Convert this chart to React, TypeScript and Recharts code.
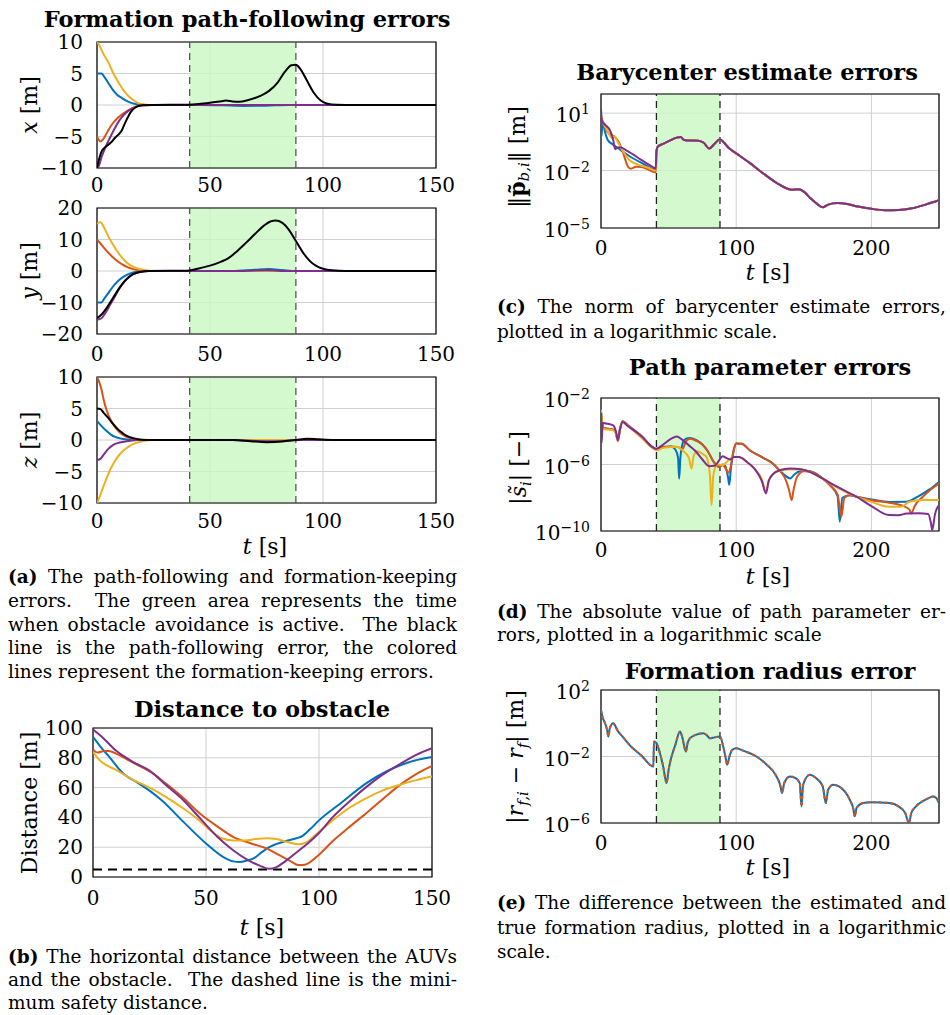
import React from "react";
import { LineChart, Line, XAxis, YAxis, CartesianGrid, ReferenceArea, ReferenceLine } from "recharts";

const SERIF = "'DejaVu Serif', 'Liberation Serif', serif";

const C_BLUE = "#0072BD";
const C_ORANGE = "#D95319";
const C_YELLOW = "#EDB120";
const C_PURPLE = "#7E2F8E";
const C_BLACK = "#000000";

// obstacle avoidance active between these times [s]
const avoidStart = 41;
const avoidEnd = 88;

// ---- (a) path-following / formation-keeping errors, [t, value] ----
const xErrBlue = [[0, 5], [2, 5], [3, 4.6], [5, 3.5], [7, 2.4], [9, 1.6], [11, 1.1], [14, 0.5], [17, 0.15], [20, 0], [45, 0], [55, -0.05], [65, -0.15], [75, -0.1], [85, 0], [150, 0]];
const xErrOrange = [[0, -5], [1.5, -5.8], [3, -5.3], [5, -4], [7, -2.9], [9, -2.1], [11, -1.5], [14, -0.8], [17, -0.3], [20, -0.05], [24, 0], [150, 0]];
const xErrYellow = [[0, 10], [1, 9.5], [3, 8], [5, 6.8], [7, 5.2], [10, 3.3], [12, 2.2], [14, 1.4], [16, 0.8], [18, 0.35], [21, 0.1], [25, 0], [150, 0]];
const xErrPurple = [[0, -10], [1, -9.5], [2, -8.3], [4, -6.5], [6, -5], [8, -3.6], [10, -2.4], [12, -1.5], [14, -0.9], [17, -0.3], [20, -0.05], [24, 0], [150, 0]];
const xErrPath = [[0, -10], [1, -8.5], [2, -7.4], [4, -6.6], [6, -6], [8, -5.2], [10, -4.5], [11, -4], [12, -3.2], [13, -2.4], [14, -1.7], [15, -1.1], [17, -0.4], [20, -0.05], [25, 0], [40, 0.05], [45, 0.15], [50, 0.35], [55, 0.6], [57, 0.7], [60, 0.55], [63, 0.5], [67, 0.8], [72, 1.4], [76, 2.2], [80, 3.6], [83, 5.2], [86, 6.3], [88, 6.4], [90, 5.7], [93, 3.8], [96, 1.9], [99, 0.7], [102, 0.2], [106, 0.02], [110, 0], [150, 0]];

const yErrBlue = [[0, -10], [2, -10], [3, -9], [5, -7], [7, -5], [9, -3.4], [11, -2.2], [13, -1.3], [16, -0.5], [19, -0.15], [23, 0], [60, 0], [70, 0.4], [76, 0.6], [82, 0.3], [88, 0], [150, 0]];
const yErrOrange = [[0, 10], [1, 9.2], [3, 7.4], [5, 5.8], [7, 4.4], [9, 3.2], [11, 2.2], [13, 1.4], [16, 0.6], [19, 0.2], [23, 0], [150, 0]];
const yErrYellow = [[0, 15], [1.5, 15.5], [3, 14], [5, 11], [7, 8.5], [9, 6.2], [11, 4.3], [13, 2.8], [15, 1.7], [18, 0.8], [21, 0.3], [25, 0], [150, 0]];
const yErrPurple = [[0, -15.5], [2, -15], [4, -13], [6, -10.5], [8, -8], [10, -5.5], [12, -3.5], [14, -2], [16, -1], [19, -0.3], [23, 0], [60, 0], [75, 0.2], [85, 0], [150, 0]];
const yErrPath = [[0, -15], [2, -13.8], [4, -12], [6, -9.8], [8, -7.5], [10, -5.3], [12, -3.4], [14, -2], [16, -1], [19, -0.3], [23, 0], [40, 0.1], [45, 0.8], [50, 1.7], [55, 3], [58, 4], [62, 6.3], [66, 9], [70, 11.8], [74, 14.5], [77, 15.8], [79, 16], [82, 15.3], [85, 13], [88, 9.5], [91, 6], [94, 3.3], [97, 1.6], [100, 0.7], [104, 0.2], [110, 0], [150, 0]];

const zErrBlue = [[0, 3], [2, 2.2], [4, 1.5], [6, 0.9], [8, 0.5], [11, 0.2], [14, 0.05], [18, 0], [150, 0]];
const zErrOrange = [[0, 10], [1, 9.2], [2, 8], [3, 6.3], [4, 5], [5, 4], [7, 2.6], [9, 1.6], [11, 0.9], [13, 0.5], [16, 0.2], [20, 0], [150, 0]];
const zErrYellow = [[0, -10], [1, -9.2], [2, -8.2], [4, -6.3], [6, -4.6], [8, -3.3], [10, -2.3], [12, -1.6], [14, -1.05], [17, -0.5], [20, -0.2], [25, 0], [150, 0]];
const zErrPurple = [[0, -3.2], [1.5, -3], [3, -2.3], [5, -1.4], [7, -0.8], [10, -0.4], [14, -0.15], [18, 0], [60, 0], [70, -0.15], [80, -0.2], [88, 0], [150, 0]];
const zErrPath = [[0, 5], [1.5, 4.9], [3, 4.3], [5, 3.5], [7, 2.6], [9, 1.8], [11, 1.2], [13, 0.7], [16, 0.3], [20, 0.05], [25, 0], [60, 0], [68, -0.2], [75, -0.35], [82, -0.25], [88, 0], [93, 0.2], [98, 0.1], [105, 0], [150, 0]];

// ---- (b) horizontal distance to the obstacle [m] ----
const distBlue = [[0, 94], [3, 88], [7, 81], [13, 70], [20, 63], [25, 58], [30, 52], [40, 37], [50, 22.5], [57, 14], [62, 10.5], [65, 10], [68, 11], [71, 12.5], [75, 17], [78, 20], [84, 23.5], [90, 26], [92, 27], [96, 32], [100, 38], [110, 50], [121, 63], [130, 71], [136, 75], [142, 78], [150, 80.5]];
const distOrange = [[0, 85.7], [2, 83.5], [5, 84.6], [7, 84.5], [10, 83], [15, 79], [20, 75], [26, 70], [32, 63], [40, 53], [47, 43], [55, 34], [62, 27], [70, 22.5], [77, 19], [82, 15], [87, 11], [91, 8], [93, 8], [95, 9], [100, 15], [106, 24], [113, 33], [121, 43], [128, 52], [136, 62], [143, 69], [150, 74.5]];
const distYellow = [[0, 84], [2, 80], [4, 77], [10, 72], [18, 65], [25, 60], [32, 54], [40, 46], [47, 38], [53, 30], [57, 26], [62, 24.5], [67, 24.5], [72, 25.5], [77, 26], [81, 25.5], [86, 23.5], [91, 22], [94, 23], [99, 29], [106, 38], [114, 47], [121, 53], [128, 58], [136, 62], [143, 65], [150, 67.5]];
const distPurple = [[0, 99], [4, 94], [10, 85], [18, 77], [25, 71.5], [32, 62], [40, 51.5], [47, 40], [55, 27], [62, 18], [69, 11], [74, 7.5], [78, 5.5], [81, 6.5], [85, 10.5], [90, 16.5], [95, 22.5], [100, 29.5], [106, 40], [113, 50], [121, 60.5], [128, 68.5], [136, 76], [143, 82], [150, 86.5]];
const minSafeDist = 5;

// ---- (c) barycenter estimate errors, stored as log10 exponents ----
const baryLogBlue = [[0, 0.3], [0.5, -0.2], [1, 0.6], [3, 0.0], [5, -0.4], [9, -0.65], [13, -0.85], [20, -1.2], [30, -1.6], [40.5, -1.95]];
const baryLogOrange = [[0, 0.8], [2, 0.4], [5, 0.0], [10, -0.23], [13, -0.5], [16, -1.0], [20, -1.8], [22, -1.9], [26, -1.8], [30, -1.82], [35, -1.95], [40.5, -2.1]];
const baryLogYellow = [[0, 0.9], [2, 0.45], [5, 0.05], [8, -0.3], [10, -0.2], [12, -0.45], [16, -0.95], [21, -1.45], [28, -1.7], [35, -1.85], [40.5, -2.0]];
const baryLogPurple = [[0, 1.2], [0.7, 0.6], [3, 0.4], [7, 0.05], [9, -0.4], [10.5, -0.88], [12, -0.8], [14, -0.78], [20, -1.0], [30, -1.45], [38.7, -1.83], [40.5, -1.9]];
// after the estimators converge all four agents share this trace
const baryLogShared = [[41, -1.0], [42, -0.75], [46, -0.6], [52, -0.4], [56, -0.28], [59, -0.25], [61, -0.38], [64, -0.43], [72, -0.44], [76, -0.55], [80, -0.85], [84, -0.6], [88, -0.36], [91, -0.55], [95, -0.85], [100, -1.1], [110, -1.6], [120, -2.15], [130, -2.65], [138, -2.95], [141, -3.0], [146, -2.98], [150, -3.1], [155, -3.45], [160, -3.75], [164, -3.92], [168, -3.78], [175, -3.7], [182, -3.75], [190, -3.88], [200, -4.0], [210, -4.07], [220, -4.06], [230, -3.97], [240, -3.78], [250, -3.55]];

// ---- (d) path parameter errors, log10 exponents ----
const pathLogBlue = [[0, -2.8], [0.5, -3.2], [1.5, -3.8], [5, -3.85], [9, -3.9], [11, -4.1], [12.5, -4.55], [14, -3.9], [16, -3.4], [20, -3.65], [30, -4.3], [38, -4.95], [41, -5.1], [46, -4.95], [52, -4.92], [55, -5.1], [57, -5.6], [57.8, -6.85], [58.8, -5.5], [61, -4.6], [63, -4.45], [66, -4.4], [71, -4.55], [75, -4.8], [79, -5.2], [83, -5.8], [87, -6.1], [90, -6.0], [92, -6.1], [94, -6.8], [94.9, -7.22], [96, -6.3], [98, -5.2], [100, -4.74], [104, -4.75], [110, -5.14], [120, -5.6], [127, -5.94], [132, -6.35], [136, -6.65], [140, -6.84], [143, -6.6], [147, -6.4], [152, -6.38], [158, -6.5], [164, -6.84], [170, -7.3], [175, -7.9], [176.6, -9.44], [178.5, -8.0], [184, -7.85], [189, -7.94], [200, -8.1], [213, -8.25], [226, -8.24], [235, -7.9], [243, -7.5], [250, -7.05]];
const pathLogOrange = [[0, -2.8], [0.5, -3.2], [1.5, -3.8], [5, -3.85], [9, -3.9], [11, -4.1], [12.5, -4.55], [14, -3.9], [16, -3.4], [20, -3.65], [30, -4.3], [38, -4.95], [41, -5.1], [46, -4.95], [52, -4.92], [57, -4.95], [60, -5.1], [63, -4.6], [66, -4.45], [71, -4.6], [75, -4.8], [79, -5.2], [83, -5.8], [87, -6.15], [90, -6.05], [92, -6.2], [94, -6.5], [96, -6.1], [98, -5.2], [100, -4.74], [104, -4.75], [110, -5.14], [120, -5.6], [127, -5.94], [132, -6.35], [136, -6.8], [139, -7.5], [141, -8.14], [142.5, -7.5], [145, -6.74], [150, -6.4], [156, -6.45], [164, -6.84], [170, -7.3], [175, -7.8], [177.8, -9.14], [180, -8.0], [184, -7.85], [189, -7.94], [200, -8.15], [213, -8.3], [222, -8.45], [228, -8.7], [229.5, -8.94], [232, -8.5], [238, -7.94], [244, -7.5], [250, -7.14]];
const pathLogYellow = [[0, -2.7], [0.5, -3.3], [1.5, -3.85], [5, -3.9], [9, -3.95], [11, -4.15], [12.5, -4.6], [14, -3.95], [16, -3.45], [20, -3.7], [30, -4.4], [38, -5.0], [41, -5.14], [46, -5.0], [52, -4.95], [57, -4.95], [60, -5.14], [65, -5.6], [67, -6.24], [68.5, -5.5], [71, -5.2], [75, -5.35], [78, -5.54], [80.5, -6.6], [81.8, -8.44], [83, -6.7], [86, -6.0], [90, -6.04], [93, -5.85], [96, -5.62], [98, -5.55], [102, -5.55], [108, -5.85], [114, -6.3], [119, -6.9], [122, -7.64], [124, -7.0], [127, -6.6], [132, -6.38], [140, -6.3], [148, -6.3], [156, -6.5], [164, -6.85], [175, -7.4], [189, -7.94], [200, -8.25], [213, -8.54], [222, -8.54], [228, -8.24], [238, -8.14], [250, -8.14]];
const pathLogPurple = [[0, -2.9], [0.5, -4.7], [1.2, -3.5], [5, -3.55], [9, -3.65], [11, -4.0], [12.5, -4.55], [14, -3.9], [16, -3.45], [20, -3.7], [30, -4.3], [38, -4.95], [41, -5.05], [46, -4.8], [52, -4.45], [56, -4.32], [60, -4.5], [65, -4.85], [70, -5.2], [75, -5.7], [80, -6.1], [84, -6.08], [87, -5.8], [90, -5.5], [93, -5.62], [96, -5.7], [98, -5.55], [102, -5.55], [108, -5.85], [114, -6.3], [119, -7.0], [122, -7.74], [124, -7.0], [127, -6.6], [132, -6.35], [140, -6.24], [148, -6.28], [156, -6.5], [164, -6.85], [175, -7.35], [189, -7.94], [200, -8.5], [213, -9.04], [220, -9.05], [226, -8.95], [235, -8.93], [242, -8.98], [244, -9.5], [245, -9.95], [247, -9.0], [250, -8.44]];

// ---- (e) formation radius error, log10 exponents (identical for all agents) ----
const radiusLog = [[0, 0.8], [1, 0.4], [3, 0], [4.5, -0.4], [5.4, -0.8], [6.5, -0.3], [9, 0.0], [10.5, -0.15], [12, -0.4], [16, -0.8], [21, -1.3], [30, -1.95], [38.7, -2.6], [39.2, -1.1], [41, -1.2], [43.6, -1.8], [46, -2.6], [48.5, -3.6], [50, -2.8], [52.2, -2.0], [55, -1.3], [58.4, -0.5], [60, -0.8], [62.8, -1.7], [64, -1.2], [65.8, -0.9], [70, -0.7], [75.6, -0.6], [78, -0.7], [80.5, -0.9], [84, -0.85], [88, -0.8], [90.4, -1.4], [92, -2.0], [93.3, -2.5], [95, -2.0], [97, -1.6], [100.2, -1.5], [105, -1.65], [115, -2.0], [122, -2.45], [129.8, -3.2], [132.5, -3.7], [134, -4.2], [135.5, -3.6], [139.7, -3.2], [144, -3.3], [147, -3.6], [148.3, -5.0], [149.5, -3.7], [154.4, -3.1], [159, -3.3], [164, -3.8], [166.3, -4.8], [168, -4.0], [171.7, -3.7], [176, -3.8], [184, -4.6], [186.5, -5.1], [187.7, -5.6], [189, -5.1], [193.8, -4.8], [200, -4.75], [213.5, -4.8], [220, -5.0], [225, -5.4], [227.8, -6], [229.5, -5.4], [233, -5.0], [240, -4.6], [245.6, -4.4], [248, -4.5], [250, -4.8]];

const tTicks150 = [0, 50, 100, 150];
const tTicks250 = [0, 100, 200];

type Trace = { pts: number[][]; color: string; dash?: string };

const fmt = (v: number) => (v < 0 ? "\u2212" + Math.abs(v) : String(v));

function makeXTick(dy: number) {
  return (props: any) => (
    <text x={props.x} y={props.y + dy} textAnchor="middle" fontFamily={SERIF} fontSize={20} fill="#000">
      {fmt(props.payload.value)}
    </text>
  );
}

function makeYTick(gap: number, log: boolean) {
  return (props: any) => {
    if (log) {
      const e = Math.round(Math.log10(props.payload.value));
      return (
        <text x={props.x - gap} y={props.y + 9} textAnchor="end" fontFamily={SERIF} fontSize={20} fill="#000">
          <tspan>10</tspan>
          <tspan dy={-8} fontSize={14}>{fmt(e)}</tspan>
        </text>
      );
    }
    return (
      <text x={props.x - gap} y={props.y + 7} textAnchor="end" fontFamily={SERIF} fontSize={20} fill="#000">
        {fmt(props.payload.value)}
      </text>
    );
  };
}

interface PanelProps {
  left: number;
  top: number;
  w: number;
  h: number;
  xMax: number;
  xTicks: number[];
  yDomain: [number, number];
  yTicks: number[];
  log?: boolean;
  traces: Trace[];
  band?: boolean;
  bandStroke?: string;
  hLine?: number;
  xTickDy: number;
  yGap: number;
}

function Panel(p: PanelProps) {
  const L = 90;
  const T = 12;
  const R = 30;
  const B = 40;
  const rows = (pts: number[][]) => pts.map(([t, v]) => ({ t, v: p.log ? Math.pow(10, v) : v }));
  return (
    <div style={{ position: "absolute", left: p.left - L, top: p.top - T }}>
      <LineChart width={L + p.w + R} height={T + p.h + B} margin={{ top: T, right: R, bottom: 0, left: 0 }}>
        <CartesianGrid stroke="#d0d0d0" strokeWidth={1} />
        {p.band && (
          <ReferenceArea
            x1={avoidStart}
            x2={avoidEnd}
            y1={p.yDomain[0]}
            y2={p.yDomain[1]}
            fill="#c9f7c2"
            fillOpacity={0.8}
            stroke="none"
            ifOverflow="visible"
          />
        )}
        {p.band && <ReferenceLine x={avoidStart} stroke={p.bandStroke || "#222"} strokeDasharray="7 5" strokeWidth={1.3} />}
        {p.band && <ReferenceLine x={avoidEnd} stroke={p.bandStroke || "#222"} strokeDasharray="7 5" strokeWidth={1.3} />}
        <XAxis
          type="number"
          dataKey="t"
          domain={[0, p.xMax]}
          ticks={p.xTicks}
          allowDataOverflow
          height={B}
          tickSize={0}
          tickMargin={0}
          axisLine={false}
          tickLine={false}
          interval={0}
          tick={makeXTick(p.xTickDy)}
        />
        <YAxis
          type="number"
          dataKey="v"
          scale={p.log ? "log" : "linear"}
          domain={p.yDomain}
          ticks={p.yTicks}
          allowDataOverflow
          width={L}
          tickSize={0}
          tickMargin={0}
          axisLine={false}
          tickLine={false}
          interval={0}
          tick={makeYTick(p.yGap, !!p.log)}
        />
        {p.hLine !== undefined && (
          <ReferenceLine y={p.hLine} stroke="#000" strokeDasharray="9 6" strokeWidth={2} />
        )}
        {p.traces.map((tr, i) => (
          <Line
            key={i}
            data={rows(tr.pts)}
            dataKey="v"
            type="monotone"
            stroke={tr.color}
            strokeWidth={2}
            strokeDasharray={tr.dash}
            dot={false}
            activeDot={false}
            isAnimationActive={false}
          />
        ))}
        <ReferenceArea
          x1={0}
          x2={p.xMax}
          y1={p.yDomain[0]}
          y2={p.yDomain[1]}
          fill="none"
          stroke="#000"
          strokeWidth={1.2}
          ifOverflow="visible"
        />
      </LineChart>
    </div>
  );
}

function Title({ cx, cy, children }: { cx: number; cy: number; children: React.ReactNode }) {
  return (
    <div
      style={{
        position: "absolute",
        left: cx,
        top: cy,
        transform: "translate(-50%, -50%)",
        fontFamily: SERIF,
        fontWeight: "bold",
        fontSize: 22.5,
        lineHeight: 1,
        whiteSpace: "nowrap",
      }}
    >
      {children}
    </div>
  );
}

function AxisLabel({ cx, cy, vertical, children }: { cx: number; cy: number; vertical?: boolean; children: React.ReactNode }) {
  return (
    <div
      style={{
        position: "absolute",
        left: cx,
        top: cy,
        transform: vertical ? "translate(-50%, -50%) rotate(-90deg)" : "translate(-50%, -50%)",
        fontFamily: SERIF,
        fontSize: 22,
        lineHeight: 1,
        whiteSpace: "nowrap",
      }}
    >
      {children}
    </div>
  );
}

function CapLine({ left, cy, last, children }: { left: number; cy: number; last?: boolean; children: React.ReactNode }) {
  return (
    <div
      style={{
        position: "absolute",
        left,
        top: cy - 12,
        width: 449,
        height: 24,
        lineHeight: "24px",
        fontFamily: SERIF,
        fontSize: 18.5,
        whiteSpace: "nowrap",
        textAlign: last ? "left" : "justify",
        textAlignLast: last ? "left" : "justify",
      }}
    >
      {children}
    </div>
  );
}

const sub = { fontSize: "0.68em", verticalAlign: "-0.3em" } as const;

const fourAgents = (b: number[][], o: number[][], y: number[][], p: number[][]): Trace[] => [
  { pts: b, color: C_BLUE },
  { pts: o, color: C_ORANGE },
  { pts: y, color: C_YELLOW },
  { pts: p, color: C_PURPLE },
];

export default function App() {
  return (
    <div
      style={{
        position: "absolute",
        left: 0,
        top: 0,
        width: 950,
        height: 1015,
        background: "#fff",
        color: "#000",
        overflow: "hidden",
      }}
    >
      {/* (a) path-following and formation-keeping errors */}
      <Title cx={247} cy={19}>Formation path-following errors</Title>
      <Panel
        left={97}
        top={42}
        w={339}
        h={126}
        xMax={150}
        xTicks={tTicks150}
        yDomain={[-10, 10]}
        yTicks={[-10, -5, 0, 5, 10]}
        band
        bandStroke="#555"
        xTickDy={24}
        yGap={14}
        traces={[...fourAgents(xErrBlue, xErrOrange, xErrYellow, xErrPurple), { pts: xErrPath, color: C_BLACK }]}
      />
      <AxisLabel cx={30} cy={105} vertical>
        <i>x</i> [m]
      </AxisLabel>
      <Panel
        left={97}
        top={208}
        w={339}
        h={126}
        xMax={150}
        xTicks={tTicks150}
        yDomain={[-20, 20]}
        yTicks={[-20, -10, 0, 10, 20]}
        band
        bandStroke="#555"
        xTickDy={27}
        yGap={14}
        traces={[...fourAgents(yErrBlue, yErrOrange, yErrYellow, yErrPurple), { pts: yErrPath, color: C_BLACK }]}
      />
      <AxisLabel cx={30} cy={271} vertical>
        <i>y</i> [m]
      </AxisLabel>
      <Panel
        left={97}
        top={377}
        w={339}
        h={126}
        xMax={150}
        xTicks={tTicks150}
        yDomain={[-10, 10]}
        yTicks={[-10, -5, 0, 5, 10]}
        band
        bandStroke="#555"
        xTickDy={25}
        yGap={14}
        traces={[...fourAgents(zErrBlue, zErrOrange, zErrYellow, zErrPurple), { pts: zErrPath, color: C_BLACK }]}
      />
      <AxisLabel cx={30} cy={440} vertical>
        <i>z</i> [m]
      </AxisLabel>
      <AxisLabel cx={265} cy={547}>
        <i>t</i> [s]
      </AxisLabel>
      <CapLine left={8} cy={577}>
        <b>(a)</b> The path-following and formation-keeping
      </CapLine>
      <CapLine left={8} cy={601}>errors. &nbsp;The green area represents the time</CapLine>
      <CapLine left={8} cy={625}>when obstacle avoidance is active. &nbsp;The black</CapLine>
      <CapLine left={8} cy={648}>line is the path-following error, the colored</CapLine>
      <CapLine left={8} cy={672} last>
        lines represent the formation-keeping errors.
      </CapLine>

      {/* (b) distance to obstacle */}
      <Title cx={262} cy={709}>Distance to obstacle</Title>
      <Panel
        left={93}
        top={728}
        w={339}
        h={149}
        xMax={150}
        xTicks={tTicks150}
        yDomain={[0, 100]}
        yTicks={[0, 20, 40, 60, 80, 100]}
        hLine={minSafeDist}
        xTickDy={28}
        yGap={10}
        traces={fourAgents(distBlue, distOrange, distYellow, distPurple)}
      />
      <AxisLabel cx={30} cy={803} vertical>
        Distance [m]
      </AxisLabel>
      <AxisLabel cx={262} cy={928}>
        <i>t</i> [s]
      </AxisLabel>
      <CapLine left={8} cy={957}>
        <b>(b)</b> The horizontal distance between the AUVs
      </CapLine>
      <CapLine left={8} cy={980}>and the obstacle. &nbsp;The dashed line is the mini-</CapLine>
      <CapLine left={8} cy={1003} last>
        mum safety distance.
      </CapLine>

      {/* (c) barycenter estimate errors */}
      <Title cx={747} cy={72}>Barycenter estimate errors</Title>
      <Panel
        left={601}
        top={94}
        w={338}
        h={134}
        xMax={250}
        xTicks={tTicks250}
        yDomain={[1e-5, 1e2]}
        yTicks={[1e-5, 1e-2, 1e1]}
        log
        band
        xTickDy={27}
        yGap={11}
        traces={fourAgents(
          [...baryLogBlue, ...baryLogShared],
          [...baryLogOrange, ...baryLogShared],
          [...baryLogYellow, ...baryLogShared],
          [...baryLogPurple, ...baryLogShared]
        )}
      />
      <AxisLabel cx={519} cy={157} vertical>
        ‖<b>p&#771;</b>
        <span style={sub}>
          <i>b,i</i>
        </span>
        ‖ [m]
      </AxisLabel>
      <AxisLabel cx={768} cy={273}>
        <i>t</i> [s]
      </AxisLabel>
      <CapLine left={497} cy={307}>
        <b>(c)</b> The norm of barycenter estimate errors,
      </CapLine>
      <CapLine left={497} cy={332} last>
        plotted in a logarithmic scale.
      </CapLine>

      {/* (d) path parameter errors */}
      <Title cx={770} cy={367}>Path parameter errors</Title>
      <Panel
        left={601}
        top={398}
        w={338}
        h={133}
        xMax={250}
        xTicks={tTicks250}
        yDomain={[1e-10, 1e-2]}
        yTicks={[1e-10, 1e-6, 1e-2]}
        log
        band
        xTickDy={26}
        yGap={11}
        traces={fourAgents(pathLogBlue, pathLogOrange, pathLogYellow, pathLogPurple)}
      />
      <AxisLabel cx={521} cy={468} vertical>
        |<i>s&#771;</i>
        <span style={sub}>
          <i>i</i>
        </span>
        | [−]
      </AxisLabel>
      <AxisLabel cx={768} cy={577}>
        <i>t</i> [s]
      </AxisLabel>
      <CapLine left={497} cy={612}>
        <b>(d)</b> The absolute value of path parameter er-
      </CapLine>
      <CapLine left={497} cy={635} last>
        rors, plotted in a logarithmic scale
      </CapLine>

      {/* (e) formation radius error */}
      <Title cx={770} cy={671}>Formation radius error</Title>
      <Panel
        left={601}
        top={690}
        w={338}
        h={133}
        xMax={250}
        xTicks={tTicks250}
        yDomain={[1e-6, 1e2]}
        yTicks={[1e-6, 1e-2, 1e2]}
        log
        band
        xTickDy={27}
        yGap={11}
        traces={[
          { pts: radiusLog, color: C_BLUE },
          { pts: radiusLog, color: C_ORANGE, dash: "3 3" },
        ]}
      />
      <AxisLabel cx={518} cy={757} vertical>
        |<i>r</i>
        <span style={sub}>
          <i>f,i</i>
        </span>{" "}
        − <i>r</i>
        <span style={sub}>
          <i>f</i>
        </span>
        | [m]
      </AxisLabel>
      <AxisLabel cx={768} cy={868}>
        <i>t</i> [s]
      </AxisLabel>
      <CapLine left={497} cy={903}>
        <b>(e)</b> The difference between the estimated and
      </CapLine>
      <CapLine left={497} cy={928}>true formation radius, plotted in a logarithmic</CapLine>
      <CapLine left={497} cy={952} last>
        scale.
      </CapLine>
    </div>
  );
}
